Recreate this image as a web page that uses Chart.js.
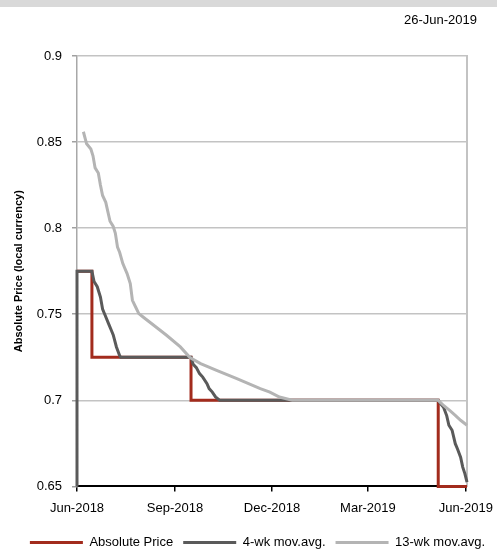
<!DOCTYPE html>
<html><head><meta charset="utf-8">
<script src="https://cdn.jsdelivr.net/npm/chart.js@4.4.1/dist/chart.umd.min.js"></script>
<style>
html,body{margin:0;padding:0;background:#fff;}
#wrap{position:relative;width:497px;height:549px;overflow:hidden;}
#bar{position:absolute;left:0;top:0;width:497px;height:7px;background:#d9d9d9;}
#date{position:absolute;right:20px;top:12px;font:13px "Liberation Sans",Arial,sans-serif;color:#000;line-height:15px;}
canvas{position:absolute;left:0;top:0;}
</style></head><body>
<div id="wrap"><canvas id="c" width="497" height="549"></canvas><div id="bar"></div><div id="date">26-Jun-2019</div></div>
<script>
// x values are days since 1-Jun-2018
const seriesNames = ['Absolute Price', '4-wk mov.avg.', '13-wk mov.avg.'];
const priceDays = [0, 14, 107, 339, 366];
const priceValues = [0.775, 0.725, 0.700, 0.650, 0.650];
const ma4Days = [0, 0, 14, 16, 19, 22, 24, 26, 30, 32, 34, 37, 40, 41, 107, 109, 112, 115, 118, 122, 124, 127, 130, 134, 339, 340, 344, 347, 349, 352, 355, 357, 360, 362, 364, 366];
const ma4Values = [0.650, 0.775, 0.775, 0.769, 0.766, 0.760, 0.753, 0.750, 0.744, 0.741, 0.738, 0.731, 0.726, 0.725, 0.725, 0.721, 0.719, 0.7155, 0.7135, 0.7097, 0.7068, 0.7048, 0.702, 0.700, 0.700, 0.699, 0.696, 0.691, 0.6855, 0.6826, 0.6748, 0.6719, 0.667, 0.6612, 0.6574, 0.6525];
const ma13Days = [6, 9, 13, 15, 17, 20, 22, 24, 27, 29, 31, 34, 36, 38, 40, 43, 47, 50, 52, 55, 58, 62, 72, 84, 97, 106, 116, 131, 150, 172, 181, 190, 202, 339, 344, 350, 355, 360, 366];
const ma13Values = [0.856, 0.849, 0.846, 0.842, 0.835, 0.832, 0.825, 0.819, 0.815, 0.8095, 0.804, 0.801, 0.797, 0.789, 0.786, 0.7794, 0.7736, 0.7678, 0.7581, 0.7542, 0.7504, 0.7484, 0.7436, 0.7378, 0.731, 0.7248, 0.7213, 0.7174, 0.7126, 0.7068, 0.7048, 0.7019, 0.700, 0.700, 0.697, 0.694, 0.6913, 0.6884, 0.6855];
const xTickDays = [0, 92, 183, 273, 365];
const xTickLabels = ['Jun-2018', 'Sep-2018', 'Dec-2018', 'Mar-2019', 'Jun-2019'];
const yTickValues = [0.65, 0.70, 0.75, 0.80, 0.85, 0.90];
const yTickLabels = ['0.65', '0.7', '0.75', '0.8', '0.85', '0.9'];
const yAxisTitle = 'Absolute Price (local currency)';

const FONT = '"Liberation Sans", Arial, sans-serif';
const pts = (xs, ys) => xs.map((x, i) => ({x: x, y: ys[i]}));

new Chart(document.getElementById('c'), {
  type: 'line',
  data: {
    datasets: [
      {label: seriesNames[0], data: pts(priceDays, priceValues), borderColor: '#a22b1d', backgroundColor: '#a22b1d', borderWidth: 3, pointRadius: 0, stepped: true, order: 3, clip: 6},
      {label: seriesNames[1], data: pts(ma4Days, ma4Values), borderColor: '#5a5a5a', backgroundColor: '#5a5a5a', borderWidth: 3, pointRadius: 0, order: 2, clip: 6},
      {label: seriesNames[2], data: pts(ma13Days, ma13Values), borderColor: '#b4b4b4', backgroundColor: '#b4b4b4', borderWidth: 3, pointRadius: 0, order: 1, clip: 6}
    ]
  },
  options: {
    responsive: false,
    animation: false,
    layout: {autoPadding: false, padding: {top: 56, left: 18, right: 0, bottom: -10}},
    plugins: {
      tooltip: {enabled: false},
      legend: {
        position: 'bottom',
        labels: {
          boxWidth: 53, boxHeight: 3, padding: 10, color: '#000',
          font: {family: FONT, size: 13},
          sort: (a, b) => a.datasetIndex - b.datasetIndex,
          generateLabels: (chart) => {
            const items = Chart.defaults.plugins.legend.labels.generateLabels(chart);
            items.forEach(it => { it.lineWidth = 0; it.fillStyle = it.strokeStyle; });
            return items;
          }
        }
      }
    },
    scales: {
      x: {
        type: 'linear', min: 0, max: 366,
        afterBuildTicks: ax => { ax.ticks = xTickDays.map(v => ({value: v})); },
        afterFit: ax => { ax.height += 1; ax.paddingLeft = 0; ax.paddingRight = 0; },
        ticks: {callback: (v, i) => xTickLabels[i], maxRotation: 0, autoSkip: false, color: '#000', font: {family: FONT, size: 13}, padding: 9},
        grid: {drawOnChartArea: false, tickColor: '#000', tickLength: 5, lineWidth: 1.5},
        border: {color: '#000', width: 2}
      },
      y: {
        min: 0.65, max: 0.9,
        afterBuildTicks: ax => { ax.ticks = yTickValues.map(v => ({value: v})); },
        afterFit: ax => { ax.width = 59; },
        ticks: {callback: (v, i) => yTickLabels[i], color: '#000', font: {family: FONT, size: 13}, padding: 10},
        grid: {color: c => (c.tick && Math.abs(c.tick.value - 0.65) < 1e-9) ? 'rgba(0,0,0,0)' : '#c3c3c3', lineWidth: 1.5, tickColor: '#a0a0a0', tickLength: 5},
        border: {color: '#a8a8a8', width: 1.5},
        title: {display: true, text: yAxisTitle, color: '#000', font: {family: FONT, size: 11, weight: 'bold'}, padding: {top: -6, bottom: 0}}
      },
      yR: {
        position: 'right', min: 0.65, max: 0.9,
        afterFit: ax => { ax.width = 30; },
        ticks: {display: false},
        grid: {display: false, drawTicks: false},
        border: {color: '#c3c3c3', width: 2}
      }
    }
  }
});
</script>
</body></html>
